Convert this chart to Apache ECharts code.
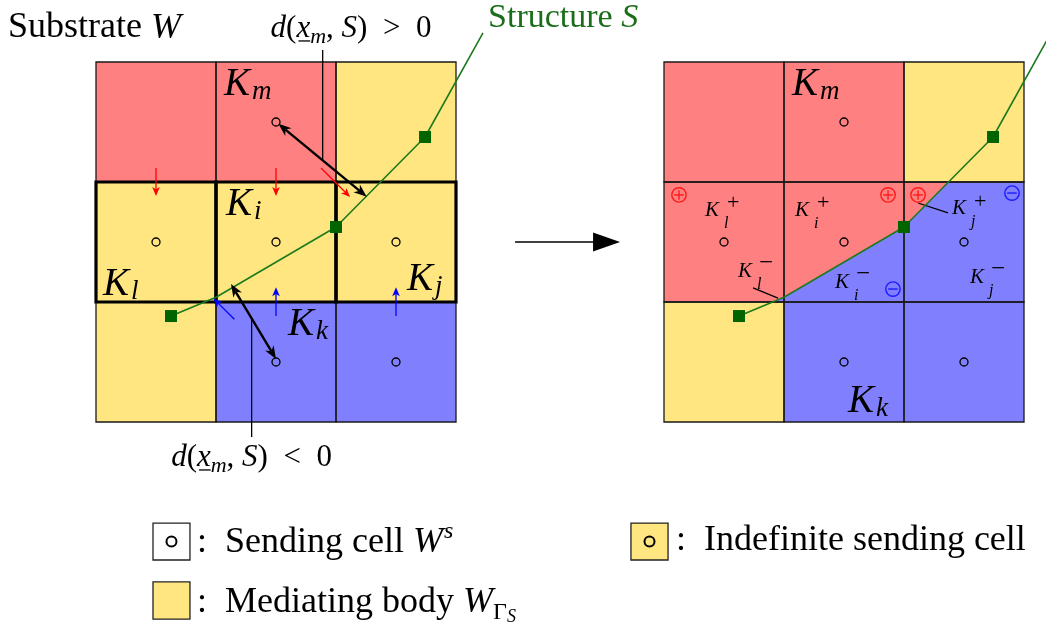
<!DOCTYPE html>
<html><head><meta charset="utf-8">
<script src="https://cdn.jsdelivr.net/npm/echarts@6/dist/echarts.min.js"></script>
<style>html,body{margin:0;padding:0;background:#fff}#c{width:1046px;height:626px}</style>
</head><body><div id="c"></div>
<script>
// ================= DATA (cell units: one cell = 1) =================
// cell states of the 3x3 neighbourhood, row 0 = top
const substrateStates = [
  ['pos', 'pos', 'med'],
  ['med', 'med', 'med'],
  ['med', 'neg', 'neg']
];
const mappedStates = [
  ['pos', 'pos', 'med'],
  ['cut', 'cut', 'cut'],
  ['med', 'neg', 'neg']
];
// sending cells [col,row]
const sendingCells = [[1, 0], [0, 1], [1, 1], [2, 1], [1, 2], [2, 2]];
// structure polyline [x,y]
const structurePts = [[3.225, -0.242], [2.742, 0.625], [2.0, 1.375], [1.0, 1.96], [0.625, 2.117]];
const structureNodes = [1, 2, 4];
// flux arrows [x1,y1,x2,y2]
const fluxPos = [[0.5, 0.883, 0.5, 1.117], [1.5, 0.883, 1.5, 1.117], [1.875, 0.883, 2.117, 1.125]];
const fluxNeg = [[1.5, 2.117, 1.5, 1.878], [2.5, 2.117, 2.5, 1.878], [1.153, 2.144, 0.978, 1.97]];
// signed distance arrows [x1,y1,x2,y2]
const distArrows = [[1.52, 0.515, 2.256, 1.122], [1.125, 1.85, 1.5, 2.475]];
// leader lines [x1,y1,x2,y2,panel]
const leaderLines = [[1.889, -0.1, 1.889, 0.817, 0], [1.297, 2.15, 1.297, 3.125, 0],
                     [2.117, 1.175, 2.367, 1.258, 1], [0.742, 1.883, 0.95, 1.967, 1]];
// sign markers in the mapped panel [x,y]
const signsPos = [[0.125, 1.108], [1.867, 1.108], [2.117, 1.108]];
const signsNeg = [[2.9, 1.092], [1.908, 1.892]];
// mapping arrow between panels [x1,y1,x2,y2]
const mapArrow = [[3.492, 1.5, 4.367, 1.5]];

// ================= LAYOUT / STYLE =================
const SHIFT = 568 / 120;               // offset of right panel in cell units
const COLORS = { pos: '#ff8080', med: '#ffe680', neg: '#8080ff', cut: '#8080ff' };
const GREEN_LINE = '#1c7a1c', GREEN_NODE = '#006400', GREEN_TEXT = '#1a6e1a';
const SERIF = "'Liberation Serif','Times New Roman',serif";
const MID = 0.22;   // distance baseline -> rendered middle, in em

const mctx = document.createElement('canvas').getContext('2d');
function fontOf(p) { return (p.it ? 'italic ' : '') + p.s + 'px ' + SERIF; }
function tw(t, f) { mctx.font = f; return mctx.measureText(t).width; }

function buildText(anchor, parts, align, color) {
  let x = 0; const items = [];
  for (const p of parts) {
    const f = fontOf(p), w = tw(p.t, f), px = x + (p.dx || 0);
    items.push({ p, f, x: px, w });
    if (!p.stack) x = px + w;
  }
  const ox = anchor[0] - (align === 'center' ? x / 2 : 0);
  const out = [];
  for (const it of items) {
    const base = anchor[1] + (it.p.dy || 0);
    const col = it.p.c || color || '#000';
    out.push({ type: 'text', x: ox + it.x, y: base - MID * it.p.s,
      style: { text: it.p.t, font: it.f, fill: col, textAlign: 'left', verticalAlign: 'middle' } });
    if (it.p.ul) out.push({ type: 'line', shape: { x1: ox + it.x + 2, y1: base + 5, x2: ox + it.x + it.w, y2: base + 5 },
      style: { stroke: col, lineWidth: 1.3 } });
  }
  return out;
}

const Kbig = (sub) => [{ t: 'K', it: 1, s: 39 }, { t: sub, it: 1, s: 27, dx: 2, dy: 5 }];
const Ksmall = (sub, sign) => [{ t: 'K', it: 1, s: 21 }, { t: sub, it: 1, s: 16, dx: 5, dy: 12, stack: 1 },
  sign === '+' ? { t: '+', s: 22, dx: 8, dy: -6.5 } : { t: '\u2212', s: 25, dx: 7, dy: -7 }];
const dParts = (rel) => [{ t: 'd', it: 1, s: 31 }, { t: '(', s: 31 }, { t: 'x', it: 1, s: 31, ul: 1 },
  { t: 'm', it: 1, s: 22, dy: 6 }, { t: ', ', s: 31 }, { t: 'S', it: 1, s: 31 },
  { t: ')\u2002' + rel + '\u20020', s: 31 }];

const labels = [
  { at: [-0.733, -0.217], parts: [{ t: 'Substrate ', s: 36 }, { t: 'W', it: 1, s: 36 }] },
  { at: [2.125, -0.217], align: 'center', parts: dParts('>') },
  { at: [3.267, -0.3], color: GREEN_TEXT, parts: [{ t: 'Structure ', s: 34 }, { t: 'S', it: 1, s: 34 }] },
  { at: [1.296, 3.358], align: 'center', parts: dParts('<') },
  { at: [1.067, 0.258], parts: Kbig('m') },
  { at: [1.083, 1.258], parts: Kbig('i') },
  { at: [0.058, 1.925], parts: Kbig('l') },
  { at: [2.592, 1.883], parts: Kbig('j') },
  { at: [1.6, 2.258], parts: Kbig('k') },
  { panel: 1, at: [1.067, 0.258], parts: Kbig('m') },
  { panel: 1, at: [1.533, 2.9], parts: Kbig('k') },
  { panel: 1, at: [0.342, 1.275], parts: Ksmall('l', '+') },
  { panel: 1, at: [1.092, 1.275], parts: Ksmall('i', '+') },
  { panel: 1, at: [2.4, 1.262], parts: Ksmall('j', '+') },
  { panel: 1, at: [0.617, 1.783], parts: Ksmall('l', '-') },
  { panel: 1, at: [1.425, 1.875], parts: Ksmall('i', '-') },
  { panel: 1, at: [2.55, 1.833], parts: Ksmall('j', '-') },
  { at: [0.842, 4.067], parts: [{ t: ':  Sending cell ', s: 36 }, { t: 'W', it: 1, s: 36 }, { t: 's', it: 1, s: 24, dx: 1, dy: -13 }] },
  { at: [0.842, 4.567], parts: [{ t: ':  Mediating body ', s: 36 }, { t: 'W', it: 1, s: 36 }, { t: '\u0393', s: 24, dy: 8 }, { t: 'S', it: 1, s: 18, dy: 11 }] },
  { at: [4.833, 4.05], parts: [{ t: ':  Indefinite sending cell', s: 36 }] }
];
const legendBoxes = [
  { box: [0.475, 3.842, 0.783, 4.15], fill: '#ffffff', dot: true },
  { box: [0.475, 4.333, 0.783, 4.642], fill: COLORS.med, dot: false },
  { box: [4.458, 3.842, 4.767, 4.15], fill: COLORS.med, dot: true }
];

// ================= derived =================
const cellItems = [], cellState = [];
[substrateStates, mappedStates].forEach((g, p) => g.forEach((row, r) => row.forEach((st, c) => {
  cellItems.push([c, r, p]); cellState.push(st);
})));
const circleItems = [];
[0, 1].forEach(p => sendingCells.forEach(s => circleItems.push([s[0], s[1], p])));

function aboveRegion(pts, y0, y1, x0) {
  const poly = [[x0, y0]];
  for (let i = 0; i < pts.length - 1; i++) {
    const a = pts[i], b = pts[i + 1];
    if ((a[1] - y0) * (b[1] - y0) < 0) { const t = (y0 - a[1]) / (b[1] - a[1]); poly.push([a[0] + t * (b[0] - a[0]), y0]); }
    if (b[1] > y0 && b[1] < y1) poly.push(b);
    if ((a[1] - y1) * (b[1] - y1) < 0) { const t = (y1 - a[1]) / (b[1] - a[1]); poly.push([a[0] + t * (b[0] - a[0]), y1]); }
  }
  poly.push([x0, y1]);
  return poly;
}

function arrowEls(a, b, o) {
  const dx = b[0] - a[0], dy = b[1] - a[1], len = Math.hypot(dx, dy), ux = dx / len, uy = dy / len;
  const els = []; let s = a.slice(), e = b.slice();
  const head = (tip, dirx, diry) => {
    const L = o.L, W = o.W, N = o.notch, nx = -diry, ny = dirx;
    return { type: 'polygon', shape: { points: [tip,
      [tip[0] - L * dirx + W * nx, tip[1] - L * diry + W * ny],
      [tip[0] - N * L * dirx, tip[1] - N * L * diry],
      [tip[0] - L * dirx - W * nx, tip[1] - L * diry - W * ny]] }, style: { fill: o.color } };
  };
  if (o.end) { els.push(head(b, ux, uy)); e = [b[0] - ux * o.L * 0.7, b[1] - uy * o.L * 0.7]; }
  if (o.start) { els.push(head(a, -ux, -uy)); s = [a[0] + ux * o.L * 0.7, a[1] + uy * o.L * 0.7]; }
  els.unshift({ type: 'line', shape: { x1: s[0], y1: s[1], x2: e[0], y2: e[1] }, style: { stroke: o.color, lineWidth: o.w } });
  return els;
}
function arrowSeries(data, o, z) {
  return { type: 'custom', z, silent: true, data, encode: { x: [0, 2], y: [1, 3] },
    renderItem: (params, api) => {
      const a = api.coord([api.value(0), api.value(1)]), b = api.coord([api.value(2), api.value(3)]);
      return { type: 'group', children: arrowEls(a, b, o) };
    } };
}
function signSeries(data, color, plus) {
  return { type: 'custom', z: 8, silent: true, data: data.map(d => [d[0] + SHIFT, d[1]]),
    renderItem: (params, api) => {
      const c = api.coord([api.value(0), api.value(1)]);
      const ch = [{ type: 'circle', shape: { cx: c[0], cy: c[1], r: 7.2 }, style: { fill: 'none', stroke: color, lineWidth: 1.4 } },
        { type: 'line', shape: { x1: c[0] - 4.8, y1: c[1], x2: c[0] + 4.8, y2: c[1] }, style: { stroke: color, lineWidth: 1.4 } }];
      if (plus) ch.push({ type: 'line', shape: { x1: c[0], y1: c[1] - 4.8, x2: c[0], y2: c[1] + 4.8 }, style: { stroke: color, lineWidth: 1.4 } });
      return { type: 'group', children: ch };
    } };
}
function structureSeries(shift) {
  return { type: 'line', z: 6, silent: true, symbol: 'rect', symbolSize: 12,
    lineStyle: { color: GREEN_LINE, width: 1.6 }, itemStyle: { color: GREEN_NODE },
    data: structurePts.map((p, i) => ({ value: [p[0] + shift, p[1]], symbol: structureNodes.includes(i) ? 'rect' : 'none' })) };
}

const option = {
  animation: false,
  grid: { left: 0, right: 0, top: 0, bottom: 0, containLabel: false },
  xAxis: { type: 'value', min: -96 / 120, max: 950 / 120, show: false },
  yAxis: { type: 'value', min: -62 / 120, max: 564 / 120, inverse: true, show: false },
  series: [
    { type: 'custom', z: 1, silent: true, data: cellItems,
      renderItem: (params, api) => {
        const c = api.value(0), r = api.value(1), p = api.value(2);
        const tl = api.coord([c + p * SHIFT, r]), br = api.coord([c + 1 + p * SHIFT, r + 1]);
        return { type: 'rect', shape: { x: tl[0], y: tl[1], width: br[0] - tl[0], height: br[1] - tl[1] },
          style: { fill: COLORS[cellState[params.dataIndex]] } };
      } },
    { type: 'custom', z: 2, silent: true, data: [[0, 1]],
      renderItem: (params, api) => ({ type: 'polygon',
        shape: { points: aboveRegion(structurePts, 1, 2, 0).map(q => api.coord([q[0] + SHIFT, q[1]])) },
        style: { fill: COLORS.pos } }) },
    { type: 'custom', z: 3, silent: true, data: cellItems,
      renderItem: (params, api) => {
        const c = api.value(0), r = api.value(1), p = api.value(2);
        const tl = api.coord([c + p * SHIFT, r]), br = api.coord([c + 1 + p * SHIFT, r + 1]);
        return { type: 'rect', shape: { x: tl[0], y: tl[1], width: br[0] - tl[0], height: br[1] - tl[1] },
          style: { fill: 'none', stroke: '#1a1a1a', lineWidth: 1.3 } };
      } },
    { type: 'custom', z: 4, silent: true, data: [[0, 1], [1, 1], [2, 1]],
      renderItem: (params, api) => {
        const c = api.value(0), r = api.value(1);
        const tl = api.coord([c, r]), br = api.coord([c + 1, r + 1]);
        return { type: 'rect', shape: { x: tl[0], y: tl[1], width: br[0] - tl[0], height: br[1] - tl[1] },
          style: { fill: 'none', stroke: '#000', lineWidth: 3.2 } };
      } },
    { type: 'custom', z: 5, silent: true, data: leaderLines,
      renderItem: (params, api) => {
        const s = api.value(4) * SHIFT;
        const a = api.coord([api.value(0) + s, api.value(1)]), b = api.coord([api.value(2) + s, api.value(3)]);
        return { type: 'line', shape: { x1: a[0], y1: a[1], x2: b[0], y2: b[1] }, style: { stroke: '#000', lineWidth: 1.3 } };
      } },
    structureSeries(0),
    structureSeries(SHIFT),
    arrowSeries(fluxPos, { color: '#ff0000', w: 1.3, L: 9, W: 3.8, notch: 0.75, end: true }, 7),
    arrowSeries(fluxNeg, { color: '#0000ff', w: 1.3, L: 9, W: 3.8, notch: 0.75, end: true }, 7),
    arrowSeries(distArrows, { color: '#000', w: 2.4, L: 13, W: 5, notch: 0.7, end: true, start: true }, 7),
    arrowSeries(mapArrow, { color: '#000', w: 1.6, L: 27, W: 9.5, notch: 1, end: true }, 7),
    { type: 'custom', z: 8, silent: true, data: circleItems,
      renderItem: (params, api) => {
        const c = api.coord([api.value(0) + 0.5 + api.value(2) * SHIFT, api.value(1) + 0.5]);
        return { type: 'circle', shape: { cx: c[0], cy: c[1], r: 4 }, style: { fill: 'none', stroke: '#000', lineWidth: 1.3 } };
      } },
    signSeries(signsPos, '#ff1a1a', true),
    signSeries(signsNeg, '#1a1aff', false),
    { type: 'custom', z: 9, silent: true, data: legendBoxes.map(b => [b.box[0], b.box[1], b.box[2], b.box[3]]),
      encode: { x: [0, 2], y: [1, 3] },
      renderItem: (params, api) => {
        const lb = legendBoxes[params.dataIndex];
        const a = api.coord([api.value(0), api.value(1)]), b = api.coord([api.value(2), api.value(3)]);
        const ch = [{ type: 'rect', shape: { x: a[0], y: a[1], width: b[0] - a[0], height: b[1] - a[1] },
          style: { fill: lb.fill, stroke: '#222', lineWidth: 1.3 } }];
        if (lb.dot) ch.push({ type: 'circle', shape: { cx: (a[0] + b[0]) / 2, cy: (a[1] + b[1]) / 2, r: 5 },
          style: { fill: 'none', stroke: '#000', lineWidth: 2 } });
        return { type: 'group', children: ch };
      } },
    { type: 'custom', z: 10, silent: true, data: labels.map(l => [l.at[0] + (l.panel ? SHIFT : 0), l.at[1]]),
      renderItem: (params, api) => {
        const l = labels[params.dataIndex];
        const anc = api.coord([api.value(0), api.value(1)]);
        return { type: 'group', children: buildText(anc, l.parts, l.align, l.color) };
      } }
  ]
};
const chart = echarts.init(document.getElementById('c'), null, { renderer: 'canvas', width: 1046, height: 626 });
chart.setOption(option);
</script></body></html>
